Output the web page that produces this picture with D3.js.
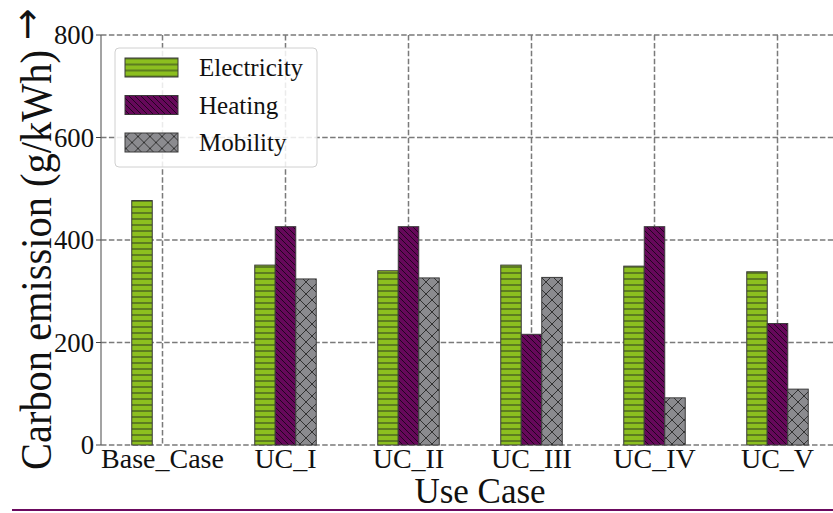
<!DOCTYPE html>
<html lang="en">
<head>
  <meta charset="UTF-8">
  <title>Carbon emission by use case</title>
  <style>
body { margin: 0; background: white; }
  </style>
</head>
<body>
  <div id="chart"></div>
  <script src="https://d3js.org/d3.v7.min.js"></script>
  <script>
const categories = ["Base_Case", "UC_I", "UC_II", "UC_III", "UC_IV", "UC_V"];
const electricity = [477, 351, 340, 351, 349, 338];
const heating = [null, 426, 426, 216, 426, 237];
const mobility = [null, 324, 326, 327, 92, 109];
const seriesNames = ["Electricity", "Heating", "Mobility"];
const yTicks = [0, 200, 400, 600, 800];

const width = 833;
const height = 513;
const plot = { left: 101, top: 35, bottom: 445, right: 839 };
const serif = "Liberation Serif";

const series = [
  { name: seriesNames[0], values: electricity, fill: "#8cbf1f", pattern: "hatch-h" },
  { name: seriesNames[1], values: heating, fill: "#66085a", pattern: "hatch-d" },
  { name: seriesNames[2], values: mobility, fill: "#8b8b8f", pattern: "hatch-x" }
];

const svg = d3.select("#chart").append("svg")
  .attr("width", width)
  .attr("height", height)
  .attr("font-family", serif);

const defs = svg.append("defs");

// hatch patterns, matplotlib style '-', '\\' and 'x'
const ph = defs.append("pattern").attr("id", "hatch-h")
  .attr("patternUnits", "userSpaceOnUse").attr("width", 6).attr("height", 6);
ph.append("rect").attr("width", 6).attr("height", 6).attr("fill", series[0].fill);
ph.append("line").attr("x1", 0).attr("x2", 6).attr("y1", 3).attr("y2", 3)
  .attr("stroke", "#2e3a20").attr("stroke-width", 1);

const pd = defs.append("pattern").attr("id", "hatch-d")
  .attr("patternUnits", "userSpaceOnUse").attr("width", 6).attr("height", 6);
pd.append("rect").attr("width", 6).attr("height", 6).attr("fill", series[1].fill);
pd.append("path").attr("d", "M0,0L6,6")
  .attr("stroke", "#1a0418").attr("stroke-width", 0.9);

const px = defs.append("pattern").attr("id", "hatch-x")
  .attr("patternUnits", "userSpaceOnUse").attr("width", 12).attr("height", 12);
px.append("rect").attr("width", 12).attr("height", 12).attr("fill", series[2].fill);
px.append("path").attr("d", "M0,0L12,12M0,12L12,0")
  .attr("stroke", "#333").attr("stroke-width", 1);

const x = d3.scaleBand()
  .domain(categories)
  .range([plot.left, plot.right]);

const barW = x.step() * 0.5 / 3;
const xSub = d3.scaleBand()
  .domain(seriesNames)
  .range([-1.5 * barW, 1.5 * barW]);

const y = d3.scaleLinear()
  .domain([0, 800])
  .range([plot.bottom, plot.top]);

const cx = c => x(c) + x.bandwidth() / 2;

// grid
const grid = svg.append("g")
  .attr("stroke", "#7a7a7a")
  .attr("stroke-width", 1.5)
  .attr("stroke-dasharray", "5.5,2.4");

grid.selectAll(".gy").data(yTicks).join("line")
  .attr("x1", plot.left).attr("x2", width)
  .attr("y1", d => y(d)).attr("y2", d => y(d));

grid.selectAll(".gx").data(categories).join("line")
  .attr("x1", cx).attr("x2", cx)
  .attr("y1", plot.top).attr("y2", plot.bottom);

// spines
svg.append("line")
  .attr("x1", plot.left).attr("x2", plot.left)
  .attr("y1", plot.top).attr("y2", plot.bottom)
  .attr("stroke", "#666").attr("stroke-width", 1.2);

// bars
series.forEach(s => {
  svg.append("g")
    .selectAll("rect")
    .data(categories.map((c, i) => ({ c, v: s.values[i] })).filter(d => d.v != null))
    .join("rect")
    .attr("x", d => cx(d.c) + xSub(s.name))
    .attr("width", xSub.bandwidth())
    .attr("y", d => y(d.v))
    .attr("height", d => y(0) - y(d.v))
    .attr("fill", `url(#${s.pattern})`)
    .attr("stroke", "#3a3a3a")
    .attr("stroke-width", 1);
});

// y axis ticks
const yAxis = svg.append("g");
yAxis.selectAll("line").data(yTicks).join("line")
  .attr("x1", plot.left - 5).attr("x2", plot.left)
  .attr("y1", d => y(d)).attr("y2", d => y(d))
  .attr("stroke", "#444");
yAxis.selectAll("text").data(yTicks).join("text")
  .attr("x", plot.left - 7)
  .attr("y", d => y(d))
  .attr("dy", "0.34em")
  .attr("text-anchor", "end")
  .attr("font-family", serif)
  .attr("font-size", 26.7)
  .attr("fill", "#111")
  .text(d => d);

// x axis labels
svg.append("g").selectAll("text").data(categories).join("text")
  .attr("x", cx)
  .attr("y", 468)
  .attr("text-anchor", "middle")
  .attr("font-family", serif)
  .attr("font-size", 28)
  .attr("fill", "#111")
  .text(d => d);

svg.append("text")
  .attr("x", 480)
  .attr("y", 503)
  .attr("text-anchor", "middle")
  .attr("font-family", serif)
  .attr("font-size", 35)
  .attr("fill", "#111")
  .text("Use Case");

// y label: glyphs look condensed in the original, so squeeze to its length
svg.append("text")
  .attr("transform", "translate(51,470) rotate(-90)")
  .attr("font-family", serif)
  .attr("font-size", 45)
  .attr("textLength", 420)
  .attr("lengthAdjust", "spacingAndGlyphs")
  .attr("fill", "#111")
  .text("Carbon emission (g/kWh)");

svg.append("text")
  .attr("x", 28)
  .attr("y", 38)
  .attr("text-anchor", "middle")
  .attr("font-family", "DejaVu Sans")
  .attr("font-size", 38)
  .attr("fill", "#111")
  .text("\u2191");

// legend
const legend = svg.append("g");
legend.append("rect")
  .attr("x", 115).attr("y", 48)
  .attr("width", 202).attr("height", 119)
  .attr("rx", 4)
  .attr("fill", "white").attr("fill-opacity", 0.85)
  .attr("stroke", "#d0d0d0");

const item = legend.selectAll(".item").data(series).join("g")
  .attr("transform", (d, i) => `translate(0,${67.5 + i * 37.5})`);
item.append("rect")
  .attr("x", 125).attr("y", -9.5)
  .attr("width", 53).attr("height", 19)
  .attr("fill", d => `url(#${d.pattern})`)
  .attr("stroke", "#3a3a3a");
item.append("text")
  .attr("x", 199)
  .attr("dy", "0.34em")
  .attr("font-family", serif)
  .attr("font-size", 25)
  .attr("fill", "#111")
  .text(d => d.name);

// purple rule at the bottom
svg.append("line")
  .attr("x1", 12).attr("x2", width)
  .attr("y1", 510).attr("y2", 510)
  .attr("stroke", "#6b0a5f").attr("stroke-width", 2);
  </script>
</body>
</html>
